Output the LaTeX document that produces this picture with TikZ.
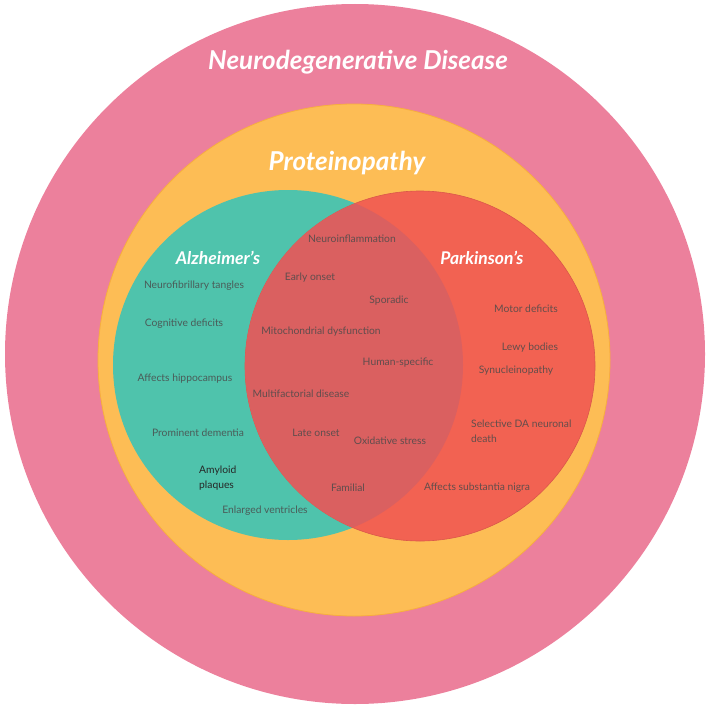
\documentclass[tikz,border=0pt]{standalone}
\usepackage{fontspec}
\setmainfont{Lato}
\definecolor{pinkc}{HTML}{EC809C}
\definecolor{orangec}{HTML}{FDBD55}
\definecolor{orangeedge}{HTML}{F7AE3E}
\definecolor{tealc}{HTML}{4FC3AC}
\definecolor{redc}{HTML}{F26252}
\definecolor{overlapc}{HTML}{DA6060}
\definecolor{labelc}{HTML}{4A4A4A}
\tikzset{
  title/.style={text=white, font=\bfseries\itshape\fontsize{26}{29}\selectfont, inner sep=0pt},
  subtitle/.style={text=white, font=\bfseries\itshape\fontsize{17.5}{20}\selectfont, inner sep=0pt},
  lbl/.style={text=labelc, text opacity=0.85, font=\fontsize{10.3}{15}\selectfont, inner sep=0pt},
  lblc/.style={lbl, text=black!85, text opacity=1},
}
\begin{document}
\begin{tikzpicture}[x=1pt,y=-1pt]
\useasboundingbox (0,0) rectangle (709,709);
% circles
\fill[pinkc] (355,354) circle (350);
\fill[orangec, draw=orangeedge, line width=0.8pt] (354,360) circle (256);
\fill[tealc] (288,365) circle (175);
\fill[redc, draw=redc!90!black, line width=0.6pt] (420,366) circle (175);
\begin{scope}
  \clip (288,365) circle (175);
  \fill[overlapc] (420,366) circle (175);
\end{scope}
% titles
\node[title] (nd) at (358,62) {Neurodegenerative Disease};
\node[title] (pr) at (347,163) {Proteinopathy};
\node[subtitle] (az) at (218,258) {Alzheimer's};
\node[subtitle] (pk) at (482,258) {Parkinson's};
% Alzheimer only
\node[lbl] (a1) at (194,286) {Neurofibrillary tangles};
\node[lbl] (a2) at (184,324) {Cognitive deficits};
\node[lbl] (a3) at (185,379) {Affects hippocampus};
\node[lbl] (a4) at (198,433) {Prominent dementia};
\node[lblc, align=left, anchor=west] (a5) at (199,478.5) {Amyloid\\plaques};
\node[lbl] (a6) at (265,511) {Enlarged ventricles};
% overlap
\node[lbl] (o1) at (352,239) {Neuroinflammation};
\node[lbl] (o2) at (310,278) {Early onset};
\node[lbl] (o3) at (389,301) {Sporadic};
\node[lbl] (o4) at (321,332) {Mitochondrial dysfunction};
\node[lbl] (o5) at (398,363) {Human-specific};
\node[lbl] (o6) at (301,394) {Multifactorial disease};
\node[lbl] (o7) at (316,433) {Late onset};
\node[lbl] (o8) at (390,441) {Oxidative stress};
\node[lbl] (o9) at (348,488) {Familial};
% Parkinson only
\node[lbl] (p1) at (526,309) {Motor deficits};
\node[lbl] (p2) at (530,348) {Lewy bodies};
\node[lbl] (p3) at (516,371) {Synucleinopathy};
\node[lbl, align=left, anchor=west] (p4) at (471,431.5) {Selective DA neuronal\\death};
\node[lbl] (p5) at (477,488) {Affects substantia nigra};
\end{tikzpicture}
\end{document}
